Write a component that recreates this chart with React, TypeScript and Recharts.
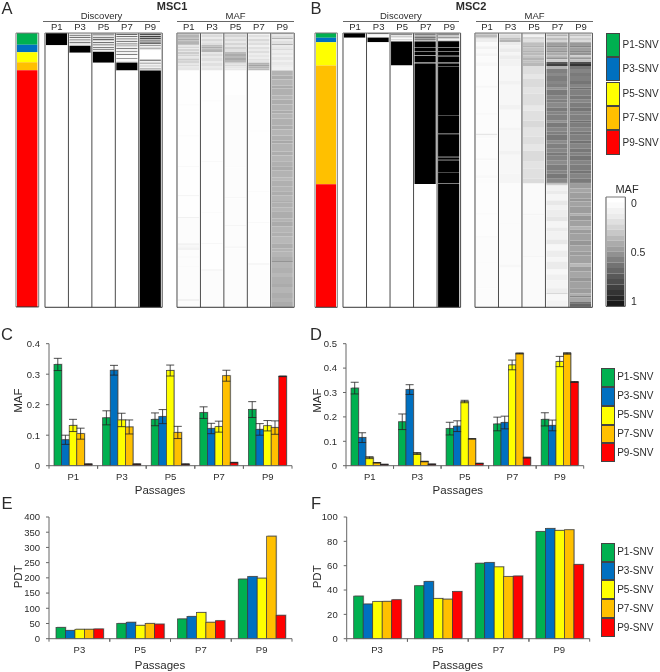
import { BarChart, Bar, Cell, ErrorBar, XAxis, YAxis, ReferenceLine } from "recharts";

const FONT = "'Liberation Sans', Arial, sans-serif";
const INK = "#2b2b2b";

const snvNames = ["P1-SNV", "P3-SNV", "P5-SNV", "P7-SNV", "P9-SNV"];
const snvColors = ["#00B050", "#0070C0", "#FFFF00", "#FFC000", "#FF0000"];
const allPassages = ["P1", "P3", "P5", "P7", "P9"];
const latePassages = ["P3", "P5", "P7", "P9"];

// rows of SNVs in each class, top to bottom
const snvCountsA = [11.6, 7.7, 10, 8, 237];
const snvCountsB = [4.7, 4.6, 23.3, 118.7, 123];

// heatmap columns: [rows, MAF] going down the column
type Bands = number[][];
const discA: Bands[] = [
  [[12.3, 1], [262.7, 0]],
  [[2, 0.12], [1, 0.45], [1, 0.1], [1, 0.55], [1.5, 0.05], [1, 0.6], [1.5, 0.1], [1, 0.5], [1.7, 0.12], [1, 0.05], [7, 1], [255.3, 0]],
  [[1.5, 0.3], [1, 0.6], [1.5, 0.1], [1, 0.5], [1, 0.15], [1.5, 0.6], [1.5, 0.05], [1, 0.55], [1.5, 0.1], [1, 0.65], [1.5, 0.05], [1, 0.5], [1, 0.1], [1.2, 0.45], [1.4, 0.05], [0.4, 0.5], [10.7, 1], [245.3, 0]],
  [[1, 0.1], [1, 0.6], [1, 0.05], [1, 0.55], [1.5, 0.05], [1, 0.6], [1.5, 0.1], [1, 0.5], [1.5, 0.05], [1, 0.6], [1, 0.1], [1, 0.45], [1.5, 0.05], [1, 0.5], [2, 0.05], [1, 0.4], [2, 0.05], [1, 0.5], [3, 0.02], [1, 0.4], [2.7, 0.02], [1, 0.35], [8, 1], [237.3, 0]],
  [[1, 0.3], [1, 0.7], [1, 0.2], [1, 0.75], [1, 0.3], [1.5, 0.7], [1, 0.15], [1, 0.75], [1.2, 0.3], [1, 1], [1.5, 0.1], [1, 0.5], [1.5, 0.05], [1, 0.5], [1.6, 0.1], [9.4, 0], [1, 0.8], [2, 0.05], [1, 0.45], [2, 0.05], [1, 0.4], [2, 0.05], [1, 0.5], [1, 0.1], [237.3, 1]],
];
const mafA: Bands[] = [
  [[2, 0.22], [2, 0.3], [1.5, 0.26], [2, 0.33], [1.5, 0.28], [2, 0.3], [1, 0.24], [1.5, 0.1], [1.5, 0.16], [1, 0.08], [2, 0.17], [1, 0.1], [2, 0.2], [1, 0.12], [1.5, 0.18], [2, 0.1], [1.5, 0.2], [1, 0.14], [2, 0.17], [1.5, 0.1], [2, 0.14], [1.5, 0.09], [2.7, 0.1],
    [34, 0.005], [1, 0.025], [30, 0.005], [1, 0.02], [30, 0.005], [1, 0.03], [28, 0.005], [1, 0.05], [21, 0.005], [1, 0.07], [25, 0.01], [2, 0.05], [2, 0.03], [3, 0.05], [6, 0.01], [2, 0.02], [8, 0.01], [1, 0.02], [32, 0.01], [2, 0.05], [6.3, 0.01]],
  [[2, 0.1], [2, 0.14], [2, 0.08], [2, 0.15], [2, 0.1], [2, 0.13], [1.5, 0.26], [2, 0.32], [1.5, 0.27], [2, 0.3], [2, 0.1], [2, 0.14], [2, 0.09], [3, 0.13], [2, 0.08], [3, 0.12], [2, 0.08], [2.7, 0.1],
    [30, 0.005], [1, 0.02], [60, 0.005], [1, 0.03], [50, 0.005], [1, 0.02], [30, 0.005], [1, 0.04], [25, 0.005], [2, 0.03], [36.3, 0.01]],
  [[2, 0.12], [2, 0.17], [2, 0.1], [2, 0.15], [2, 0.09], [2, 0.16], [2, 0.1], [2, 0.18], [3, 0.12], [2, 0.27], [2, 0.33], [2, 0.28], [2, 0.34], [2.7, 0.29], [2, 0.12], [2, 0.15], [2, 0.1], [2, 0.09],
    [25, 0.005], [1, 0.02], [70, 0.01], [1, 0.02], [30, 0.01], [1, 0.04], [27, 0.01], [1, 0.05], [20, 0.01], [2, 0.03], [59.3, 0.01]],
  [[2, 0.05], [2, 0.12], [2, 0.07], [2, 0.15], [2, 0.09], [2, 0.13], [2, 0.06], [2, 0.12], [2, 0.08], [2, 0.13], [2, 0.07], [2, 0.1], [2, 0.07], [1, 0.12], [2, 0.1], [0.7, 0.12], [2, 0.3], [2, 0.36], [2, 0.3], [2, 0.27],
    [60, 0.004], [1, 0.015], [60, 0.004], [1, 0.02], [30, 0.004], [1, 0.03], [40, 0.004], [2, 0.03], [42.3, 0.006]],
  [[1, 0.3], [2, 0.1], [2, 0.14], [1, 0.3], [2, 0.08], [3, 0.12], [1, 0.3], [2, 0.08], [2, 0.1], [1, 0.14], [3, 0.07], [2, 0.1], [2, 0.06], [3, 0.1], [2, 0.06], [3, 0.09], [2, 0.07], [3.7, 0.06],
    [5, 0.3], [4, 0.32], [6, 0.29], [3, 0.33], [7, 0.31], [4, 0.29], [5, 0.32], [6, 0.3], [3, 0.33], [5, 0.29], [7, 0.31], [4, 0.32], [6, 0.29], [5, 0.31], [3, 0.34], [8, 0.3], [4, 0.32], [6, 0.29], [5, 0.31], [4, 0.33], [7, 0.3], [3, 0.28], [6, 0.31], [5, 0.3], [4, 0.32], [6, 0.29], [1, 0.4], [5, 0.31], [4, 0.29], [7, 0.32], [3, 0.3], [5, 0.33], [6, 0.29], [4, 0.31], [7, 0.28], [5, 0.32], [3, 0.3], [6, 0.29], [4, 0.32], [1, 0.42], [6, 0.29], [5, 0.31], [4, 0.28], [7, 0.31], [3, 0.33], [6, 0.29], [5, 0.32], [4, 0.3], [5.3, 0.33]],
];
const discB: Bands[] = [
  [[4.7, 1], [270.3, 0]],
  [[1, 0.6], [0.5, 0.2], [2.5, 0.02], [0.5, 0.6], [0.3, 0.02], [4.5, 1], [265.7, 0]],
  [[1, 0.3], [1, 0.45], [1.5, 0.1], [1, 0.35], [1.5, 0.02], [1, 0.15], [1, 0.05], [0.8, 0.5], [23.7, 1], [242.5, 0]],
  [[1, 0.35], [1.5, 0.5], [1, 0.3], [1.5, 0.55], [1, 0.35], [1, 0.5], [1, 0.25], [0.8, 0.6], [5.5, 1], [0.7, 0.65], [3, 1], [0.8, 0.5], [3.5, 1], [0.8, 0.45], [6.5, 1], [1, 0.4], [120.7, 1], [123.7, 0]],
  [[1, 0.4], [1.5, 0.45], [1.5, 0.2], [1.5, 0.4], [1, 0.15], [1, 0.03], [0.8, 0.3], [6, 1], [0.7, 0.6], [3, 1], [0.8, 0.5], [4, 1], [0.8, 0.4], [6, 1], [1, 0.5], [3, 1], [0.5, 0.8], [48, 1], [0.6, 0.8], [18, 1], [0.8, 0.7], [22.5, 1], [0.7, 0.6], [2.4, 1], [0.7, 0.7], [11.5, 1], [0.6, 0.85], [10.5, 1], [0.8, 0.45], [123.8, 1]],
];
const mafB: Bands[] = [
  [[2, 0.2], [2.7, 0.27], [2, 0.1], [2.6, 0.07], [4, 0.02], [3, 0.05], [4, 0.02], [3, 0.04], [6, 0.015], [3.7, 0.03],
    [20, 0.01], [2, 0.03], [25, 0.01], [2, 0.025], [19, 0.01], [1.5, 0.1], [3, 0.02], [20, 0.012], [2, 0.03], [15, 0.01], [3, 0.025], [5.5, 0.01],
    [30, 0.008], [1, 0.03], [22, 0.008], [1, 0.04], [25, 0.01], [1, 0.025], [24, 0.01], [1, 0.02], [19, 0.01]],
  [[2, 0.1], [2.7, 0.14], [2, 0.26], [2.6, 0.3], [3, 0.08], [3, 0.05], [4, 0.08], [3, 0.04], [4, 0.07], [6.7, 0.05],
    [15, 0.03], [4, 0.05], [20, 0.03], [5, 0.05], [18, 0.025], [3, 0.045], [20, 0.03], [4, 0.05], [19, 0.03], [10, 0.04],
    [40, 0.015], [1, 0.03], [40, 0.015], [3, 0.03], [40, 0.012]],
  [[2, 0.1], [2, 0.05], [2, 0.16], [3.3, 0.12], [3, 0.25], [2, 0.3], [3, 0.24], [2, 0.3], [3, 0.27], [2, 0.23], [3, 0.3], [2, 0.25], [3.7, 0.28],
    [8, 0.13], [5, 0.1], [9, 0.14], [6, 0.11], [12, 0.13], [5, 0.09], [10, 0.12], [7, 0.15], [9, 0.11], [8, 0.13], [6, 0.1], [11, 0.14], [7, 0.11], [10, 0.12], [5, 0.14],
    [30, 0.02], [2, 0.04], [40, 0.025], [2, 0.04], [50, 0.02]],
  [[1.5, 0.2], [2, 0.3], [1.5, 0.15], [2, 0.25], [2.3, 0.17], [3, 0.38], [2, 0.45], [3, 0.35], [2, 0.42], [3, 0.33], [2, 0.28], [2, 0.42], [2.7, 0.2], [2, 0.65], [2, 0.75],
    [3, 0.3], [4, 0.5], [3, 0.46], [5, 0.51], [3, 0.47], [4, 0.5], [2, 0.42], [6, 0.52], [4, 0.48], [3, 0.5], [5, 0.46], [4, 0.52], [3, 0.48], [6, 0.5], [2, 0.43], [5, 0.52], [4, 0.47], [3, 0.5], [6, 0.53], [3, 0.45], [5, 0.5], [4, 0.47], [3, 0.52], [5, 0.49], [4, 0.45], [6, 0.51], [3, 0.48], [5, 0.53], [4, 0.47], [1, 0.6],
    [2, 0.2], [5, 0.05], [4, 0.08], [6, 0.04], [5, 0.09], [4, 0.05], [7, 0.07], [5, 0.1], [6, 0.04], [4, 0.08], [8, 0.05], [5, 0.09], [6, 0.03], [7, 0.07], [4, 0.04], [8, 0.08], [5, 0.03], [6, 0.06], [8, 0.04], [5, 0.07], [1, 0.2], [6, 0.03], [7, 0.05]],
  [[1.5, 0.2], [2, 0.25], [1.5, 0.12], [2, 0.2], [2.3, 0.14], [3, 0.4], [2, 0.48], [3, 0.38], [2, 0.46], [3, 0.42], [2, 0.2], [2, 0.4], [2.7, 0.25], [2, 0.7], [2, 0.8],
    [3, 0.54], [4, 0.48], [3, 0.52], [5, 0.5], [3, 0.54], [4, 0.48], [2, 0.56], [6, 0.5], [4, 0.53], [3, 0.47], [5, 0.51], [4, 0.54], [3, 0.48], [6, 0.5], [2, 0.56], [5, 0.51], [4, 0.48], [3, 0.53], [6, 0.5], [3, 0.55], [5, 0.48], [4, 0.53], [3, 0.49], [5, 0.54], [4, 0.48], [6, 0.51], [3, 0.54], [5, 0.48], [4, 0.52], [1, 0.7],
    [5, 0.39], [4, 0.35], [6, 0.38], [3, 0.41], [5, 0.36], [7, 0.39], [2, 0.32], [5, 0.41], [6, 0.37], [3, 0.3], [4, 0.39], [7, 0.37], [5, 0.41], [6, 0.36], [4, 0.39], [8, 0.37], [3, 0.28], [5, 0.39], [6, 0.35], [4, 0.41], [7, 0.37], [5, 0.39], [3, 0.32], [1, 0.6], [5, 0.35], [1, 0.7], [3.5, 0.6], [0.5, 0.7]],
];
const scaleSteps = [0, 0.02, 0.05, 0.08, 0.12, 0.17, 0.22, 0.28, 0.33, 0.38, 0.43, 0.5, 0.55, 0.6, 0.65, 0.7, 0.75, 0.8, 0.85, 0.9];

// bar panels, one row per SNV class, columns follow the passages
const mafC = [
  [0.332, 0.157, 0.152, 0.174, 0.184],
  [0.085, 0.313, 0.161, 0.122, 0.119],
  [0.132, 0.15, 0.312, 0.128, 0.131],
  [0.105, 0.127, 0.109, 0.295, 0.125],
  [0.005, 0.005, 0.005, 0.01, 0.293],
];
const errC = [
  [0.02, 0.023, 0.021, 0.019, 0.026],
  [0.015, 0.016, 0.023, 0.017, 0.019],
  [0.02, 0.022, 0.018, 0.018, 0.017],
  [0.018, 0.023, 0.02, 0.018, 0.022],
  [0.001, 0.001, 0.001, 0.001, 0.001],
];
const mafD = [
  [0.318, 0.18, 0.152, 0.171, 0.19],
  [0.115, 0.312, 0.162, 0.177, 0.165],
  [0.033, 0.05, 0.263, 0.413, 0.427],
  [0.012, 0.017, 0.11, 0.46, 0.46],
  [0.005, 0.006, 0.009, 0.033, 0.343],
];
const errD = [
  [0.024, 0.032, 0.026, 0.028, 0.027],
  [0.02, 0.02, 0.022, 0.026, 0.022],
  [0.004, 0.004, 0.005, 0.02, 0.021],
  [0.001, 0.001, 0.001, 0.002, 0.003],
  [0.001, 0.001, 0.001, 0.002, 0.002],
];
const pdtE = [
  [37, 50, 65, 196],
  [27, 54, 73, 204],
  [31, 44, 86, 199],
  [31, 50, 54, 337],
  [32, 48, 59, 77],
];
const pdtF = [
  [35, 43.5, 62, 88],
  [28.5, 47, 62.5, 90.5],
  [30.5, 33, 59, 89],
  [30.7, 32.5, 51, 89.5],
  [32, 38.7, 51.5, 61],
];

const mafGray = (maf: number) => {
  const g = Math.round(255 * (1 - maf));
  return `rgb(${g},${g},${g})`;
};

function Txt({ x, y, size, bold, rotate, children }: any) {
  return (
    <div
      style={{
        position: "absolute",
        left: x,
        top: y,
        transform: `translate(-50%,-50%)${rotate ? ` rotate(${rotate}deg)` : ""}`,
        fontFamily: FONT,
        fontSize: size,
        fontWeight: bold ? 700 : 400,
        color: INK,
        whiteSpace: "nowrap",
        lineHeight: 1,
      }}
    >
      {children}
    </div>
  );
}

function HLine({ x1, x2, y }: any) {
  return <div style={{ position: "absolute", left: x1, top: y, width: x2 - x1, height: 1, background: "#666" }} />;
}

// stacked bands drawn down each column, rows run from the top
function HeatPanel({ x, y, w, h, names, columns, fills, domain, line = "#4a4a4a" }: any) {
  const n = Math.max(...columns.map((c: Bands) => c.length));
  const keys = Array.from({ length: n }, (_, i) => `b${i}`);
  const rows = names.map((name: string, c: number) => {
    const row: any = { name };
    keys.forEach((k, i) => (row[k] = columns[c][i] ? columns[c][i][0] : 0));
    return row;
  });
  return (
    <div style={{ position: "absolute", left: x - 2, top: y - 2 }}>
      <BarChart
        width={w + 4}
        height={h + 4}
        data={rows}
        margin={{ top: 2, right: 2, bottom: 2, left: 2 }}
        barCategoryGap={0}
        barGap={0}
      >
        <XAxis dataKey="name" hide />
        <YAxis type="number" hide reversed domain={[0, domain]} allowDataOverflow />
        {keys.map((k, i) => (
          <Bar key={k} dataKey={k} stackId="s" barSize={w / names.length + 0.2} isAnimationActive={false}>
            {names.map((name: string, c: number) => {
              const band = columns[c][i];
              return <Cell key={name} fill={band ? (fills ? fills[i] : mafGray(band[1])) : "none"} />;
            })}
          </Bar>
        ))}
        {names.map((name: string) => (
          <ReferenceLine key={name} x={name} position="start" stroke={line} strokeWidth={1} />
        ))}
        <ReferenceLine x={names[names.length - 1]} position="end" stroke={line} strokeWidth={1} />
        <ReferenceLine y={0} stroke="#777" strokeWidth={1} />
        <ReferenceLine y={domain} stroke="#333" strokeWidth={1} />
      </BarChart>
    </div>
  );
}

function ShadedBar({ x, y, width, height, fill }: any) {
  if (!(height >= 0)) return null;
  return (
    <g>
      <rect x={x + 1} y={y - 0.8} width={width} height={height} fill="#bdbdbd" />
      <rect x={x} y={y} width={width} height={height} fill={fill} stroke="#3a3a3a" strokeWidth={0.7} />
    </g>
  );
}

function BandTick({ x, y, payload, band }: any) {
  return (
    <g>
      <line x1={x - band / 2} x2={x - band / 2} y1={y} y2={y + 3} stroke="#666" />
      <line x1={x + band / 2} x2={x + band / 2} y1={y} y2={y + 3} stroke="#666" />
      <text x={x} y={y + 14.5} textAnchor="middle" fontFamily={FONT} fontSize={9.5} fill={INK}>
        {payload.value}
      </text>
    </g>
  );
}

function BarPanel({ x, y, w, h, plot, cats, values, errs, ticks, domain, axisWidth, barSize, yLabel, labelDy, passagesDx, passagesDy }: any) {
  const rows = cats.map((name: string, c: number) => {
    const row: any = { name };
    snvNames.forEach((s, i) => {
      row[s] = values[i][c];
      if (errs) row[`${s}-err`] = errs[i][c];
    });
    return row;
  });
  const band = (w - axisWidth - plot.right) / cats.length;
  return (
    <div style={{ position: "absolute", left: x, top: y }}>
      <BarChart
        width={w}
        height={h}
        data={rows}
        barGap={0}
        margin={{ top: plot.top, right: plot.right, bottom: plot.bottom, left: 0 }}
      >
        <XAxis
          dataKey="name"
          height={30}
          tickLine={false}
          tickSize={0}
          tickMargin={0}
          interval={0}
          stroke="#666"
          tick={<BandTick band={band} />}
          label={{
            value: "Passages",
            position: "center",
            dx: passagesDx,
            dy: passagesDy,
            style: { fontFamily: FONT, fontSize: 11.5, fill: INK },
          }}
        />
        <YAxis
          width={axisWidth}
          domain={domain}
          ticks={ticks}
          interval={0}
          tickSize={3}
          tickMargin={6}
          stroke="#666"
          tick={{ fontFamily: FONT, fontSize: 9.5, fill: INK }}
          label={{
            value: yLabel,
            angle: -90,
            position: "center",
            dx: 18 - axisWidth / 2,
            dy: labelDy,
            style: { fontFamily: FONT, fontSize: 11.5, fill: INK },
          }}
        />
        {snvNames.map((s, i) => (
          <Bar key={s} dataKey={s} fill={snvColors[i]} barSize={barSize} shape={<ShadedBar />} isAnimationActive={false}>
            {errs && <ErrorBar dataKey={`${s}-err`} width={4} stroke="#222" strokeWidth={0.8} />}
          </Bar>
        ))}
      </BarChart>
    </div>
  );
}

function SnvLegend({ x, y, w, step, textSize = 10 }: any) {
  return (
    <>
      {snvNames.map((s, i) => (
        <div key={s}>
          <div
            style={{
              position: "absolute",
              left: x,
              top: y + step * i,
              width: w,
              height: step,
              boxSizing: "border-box",
              background: snvColors[i],
              border: "1px solid #444",
            }}
          />
          <div
            style={{
              position: "absolute",
              left: x + w + 2.5,
              top: y + step * i + step / 2 - textSize / 2,
              fontFamily: FONT,
              fontSize: textSize,
              lineHeight: 1,
              color: INK,
              whiteSpace: "nowrap",
            }}
          >
            {s}
          </div>
        </div>
      ))}
    </>
  );
}

function PanelHeader({ x1, x2, title, lineX1, lineX2 }: any) {
  const cw = (x2 - x1) / 5;
  return (
    <>
      <Txt x={(lineX1 + lineX2) / 2} y={16} size={9.5}>{title}</Txt>
      <HLine x1={lineX1} x2={lineX2} y={20.5} />
      {allPassages.map((p, i) => (
        <Txt key={p} x={x1 + cw * (i + 0.5)} y={27} size={9.5}>{p}</Txt>
      ))}
    </>
  );
}

export default function App() {
  return (
    <div style={{ position: "absolute", left: 0, top: 0, width: 660, height: 672, background: "#fff", overflow: "hidden", filter: "blur(0.35px)" }}>
      <Txt x={7} y={8} size={16.5}>A</Txt>
      <Txt x={316} y={8} size={16.5}>B</Txt>
      <Txt x={7} y={334} size={16.5}>C</Txt>
      <Txt x={316} y={334} size={16.5}>D</Txt>
      <Txt x={7} y={503} size={16.5}>E</Txt>
      <Txt x={316} y={503} size={16.5}>F</Txt>
      <Txt x={172} y={5.5} size={11} bold>MSC1</Txt>
      <Txt x={471} y={5.5} size={11} bold>MSC2</Txt>

      <HeatPanel x={16.3} y={32.7} w={22.7} h={274} names={["SNV"]} domain={274.3} line="#777"
        columns={[snvCountsA.map((c) => [c, 0])]} fills={snvColors} />
      <PanelHeader x1={45} x2={162} title="Discovery" lineX1={43} lineX2={160} />
      <HeatPanel x={45} y={32.7} w={117.2} h={274.3} names={allPassages} columns={discA} domain={275} />
      <PanelHeader x1={177} x2={294} title="MAF" lineX1={177} lineX2={294} />
      <HeatPanel x={177} y={32.7} w={117.2} h={274.3} names={allPassages} columns={mafA} domain={275} />

      <HeatPanel x={315} y={32.7} w={22.3} h={274.3} names={["SNV"]} domain={274.3} line="#777"
        columns={[snvCountsB.map((c) => [c, 0])]} fills={snvColors} />
      <PanelHeader x1={343.3} x2={461} title="Discovery" lineX1={342.7} lineX2={459} />
      <HeatPanel x={343.3} y={32.7} w={117.6} h={274.3} names={allPassages} columns={discB} domain={275} />
      <PanelHeader x1={475.3} x2={592.7} title="MAF" lineX1={476} lineX2={593} />
      <HeatPanel x={475.3} y={32.7} w={117.4} h={274.3} names={allPassages} columns={mafB} domain={275} />

      <SnvLegend x={606.3} y={32.7} w={13.7} step={24.4} />
      <Txt x={627} y={188.5} size={11}>MAF</Txt>
      <HeatPanel x={605.7} y={196.7} w={19.3} h={109.3} names={["scale"]} domain={110} line="#555"
        columns={[scaleSteps.map((m) => [5.5, m])]} />
      <Txt x={634} y={203} size={10.5}>0</Txt>
      <Txt x={638} y={252} size={10.5}>0.5</Txt>
      <Txt x={634} y={301} size={10.5}>1</Txt>

      <BarPanel x={0} y={335} w={300} h={165} plot={{ top: 8.7, right: 8, bottom: 4.3 }} cats={allPassages}
        values={mafC} errs={errC} ticks={[0, 0.1, 0.2, 0.3, 0.4]} domain={[0, 0.4]} axisWidth={49} barSize={7.6}
        yLabel="MAF" labelDy={-4} passagesDx={-10.5} passagesDy={9.3} />
      <BarPanel x={299} y={335} w={291} h={165} plot={{ top: 8.7, right: 6.3, bottom: 4.3 }} cats={allPassages}
        values={mafD} errs={errD} ticks={[0, 0.1, 0.2, 0.3, 0.4, 0.5]} domain={[0, 0.5]} axisWidth={47} barSize={7.4}
        yLabel="MAF" labelDy={-4} passagesDx={-7} passagesDy={9.3} />
      <SnvLegend x={600.7} y={368} w={14} step={18.85} />

      <BarPanel x={0} y={505} w={300} h={167} plot={{ top: 12, right: 8, bottom: 3.3 }} cats={latePassages}
        values={pdtE} ticks={[0, 50, 100, 150, 200, 250, 300, 350, 400]} domain={[0, 400]} axisWidth={49} barSize={9.47}
        yLabel="PDT" labelDy={-1} passagesDx={-10.5} passagesDy={11.3} />
      <BarPanel x={299} y={505} w={296} h={167} plot={{ top: 12, right: 5.3, bottom: 3.3 }} cats={latePassages}
        values={pdtF} ticks={[0, 20, 40, 60, 80, 100]} domain={[0, 100]} axisWidth={47.7} barSize={9.5}
        yLabel="PDT" labelDy={-1} passagesDx={-10.5} passagesDy={11.3} />
      <SnvLegend x={600.7} y={542.7} w={14} step={18.85} />
    </div>
  );
}
